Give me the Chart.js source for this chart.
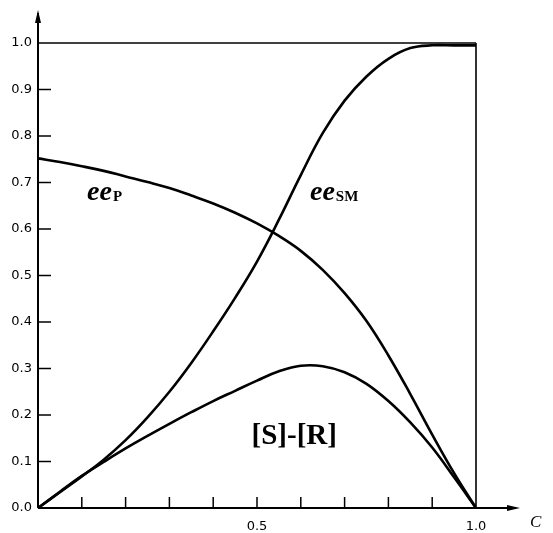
<!DOCTYPE html>
<html><head><meta charset="utf-8">
<script src="https://cdn.jsdelivr.net/npm/chart.js@4.4.1/dist/chart.umd.min.js"></script>
<style>html,body{margin:0;padding:0;background:#fff;}#wrap{position:relative;width:553px;height:533px;}canvas{display:block;}</style>
</head><body><div id="wrap"><canvas id="c" width="553" height="533" style="width:553px;height:533px"></canvas></div>
<script>
// Conversion C (x values)
const conversion = [0,0.05,0.1,0.15,0.2,0.25,0.3,0.35,0.4,0.45,0.5,0.55,0.6,0.65,0.7,0.75,0.8,0.85,0.9,0.95,1.0];
// ee of product
const eeP  = [0.752,0.744,0.735,0.725,0.713,0.701,0.688,0.672,0.655,0.635,0.612,0.585,0.553,0.512,0.462,0.402,0.328,0.245,0.158,0.075,0];
// ee of starting material
const eeSM = [0,0.034,0.068,0.104,0.146,0.195,0.250,0.312,0.380,0.452,0.530,0.620,0.716,0.806,0.876,0.928,0.966,0.989,0.995,0.995,0.995];
// [S]-[R]
const diffSR = [0,0.035,0.069,0.099,0.128,0.155,0.181,0.206,0.230,0.252,0.274,0.294,0.306,0.305,0.292,0.267,0.230,0.184,0.130,0.066,0];
// tick labels
const yTickLabels = ["0.0","0.1","0.2","0.3","0.4","0.5","0.6","0.7","0.8","0.9","1.0"];
const xTickValues = [0.1,0.2,0.3,0.4,0.5,0.6,0.7,0.8,0.9];
const xLabeled = {"0.5":"0.5","1":"1.0"};
const xAxisTitle = "C";
const curveLabels = [
  {main:"ee", sub:"P", x:0.112, y:0.662},
  {main:"ee", sub:"SM", x:0.621, y:0.662}
];
const diffLabel = {text:"[S]-[R]", x:0.585, y:0.137};

const toPts = arr => arr.map((v,i)=>({x:conversion[i], y:v}));

const decor = {
  id:'decor',
  afterDraw(chart){
    const ctx = chart.ctx, xs = chart.scales.x, ys = chart.scales.y;
    const L = xs.getPixelForValue(0), R = xs.getPixelForValue(1);
    const B = ys.getPixelForValue(0), T = ys.getPixelForValue(1);
    ctx.save();
    ctx.strokeStyle = '#000'; ctx.fillStyle = '#000';
    // frame top & right
    ctx.lineWidth = 1.3;
    ctx.beginPath(); ctx.moveTo(L,T); ctx.lineTo(R,T); ctx.stroke();
    ctx.lineWidth = 1.6;
    ctx.beginPath(); ctx.moveTo(R,T); ctx.lineTo(R,B); ctx.stroke();
    // axes with arrows
    ctx.lineWidth = 2;
    ctx.beginPath(); ctx.moveTo(L,B); ctx.lineTo(L,T-30); ctx.stroke();
    ctx.beginPath(); ctx.moveTo(L,B); ctx.lineTo(R+40,B); ctx.stroke();
    ctx.beginPath(); ctx.moveTo(L,T-33); ctx.lineTo(L-3,T-20); ctx.lineTo(L+3,T-20); ctx.closePath(); ctx.fill();
    ctx.beginPath(); ctx.moveTo(R+44,B); ctx.lineTo(R+31,B-3); ctx.lineTo(R+31,B+3); ctx.closePath(); ctx.fill();
    // inward ticks
    ctx.lineWidth = 1.5;
    for (let i=1;i<yTickLabels.length-1;i++){
      const v = parseFloat(yTickLabels[i]);
      const py = ys.getPixelForValue(v);
      ctx.beginPath(); ctx.moveTo(L,py); ctx.lineTo(L+13,py); ctx.stroke();
    }
    xTickValues.forEach(v=>{
      const px = xs.getPixelForValue(v);
      ctx.beginPath(); ctx.moveTo(px,B); ctx.lineTo(px,B-11); ctx.stroke();
    });
    // axis title
    ctx.font = 'italic 17px "Liberation Serif"';
    ctx.textBaseline = 'alphabetic'; ctx.textAlign = 'left';
    ctx.fillText(xAxisTitle, R+54, B+19);
    // curve labels
    curveLabels.forEach(l=>{
      const px = xs.getPixelForValue(l.x), py = ys.getPixelForValue(l.y);
      ctx.font = 'bold italic 28px "Liberation Serif"';
      ctx.fillText(l.main, px, py);
      const w = ctx.measureText(l.main).width;
      ctx.font = 'bold 15px "Liberation Serif"';
      ctx.fillText(l.sub, px+w+1, py+1);
    });
    ctx.font = 'bold 29px "Liberation Serif"';
    ctx.textAlign = 'center';
    ctx.fillText(diffLabel.text, xs.getPixelForValue(diffLabel.x), ys.getPixelForValue(diffLabel.y));
    ctx.restore();
  }
};

const lineStyle = {borderColor:'#000', borderWidth:2.6, pointRadius:0, fill:false, tension:0.4};

new Chart(document.getElementById('c'), {
  type:'line',
  data:{datasets:[
    Object.assign({label:'eeP', data:toPts(eeP)}, lineStyle),
    Object.assign({label:'eeSM', data:toPts(eeSM)}, lineStyle),
    Object.assign({label:'[S]-[R]', data:toPts(diffSR)}, lineStyle)
  ]},
  options:{
    responsive:false, animation:false, devicePixelRatio:1,
    layout:{padding:{top:43, right:77, bottom:0, left:0}},
    plugins:{legend:{display:false}, tooltip:{enabled:false}},
    scales:{
      x:{type:'linear', min:0, max:1,
         grid:{display:false, drawTicks:false}, border:{display:false},
         afterFit(s){ s.height = 25; },
         afterBuildTicks(s){ s.ticks = [{value:0.5},{value:1}]; },
         ticks:{padding:11, autoSkip:false, maxRotation:0, color:'#000', font:{family:'DejaVu Sans', size:13},
                callback:(v)=> xLabeled[String(Math.round(v*10)/10)] || ''}},
      y:{type:'linear', min:0, max:1,
         grid:{display:false, drawTicks:false}, border:{display:false},
         afterFit(s){ s.width = 38; },
         afterBuildTicks(s){ s.ticks = yTickLabels.map(t=>({value:parseFloat(t)})); },
         ticks:{padding:6, autoSkip:false, color:'#000', font:{family:'DejaVu Sans', size:13},
                callback:(v)=> yTickLabels[Math.round(v*10)]}}
    }
  },
  plugins:[decor]
});
</script></body></html>
